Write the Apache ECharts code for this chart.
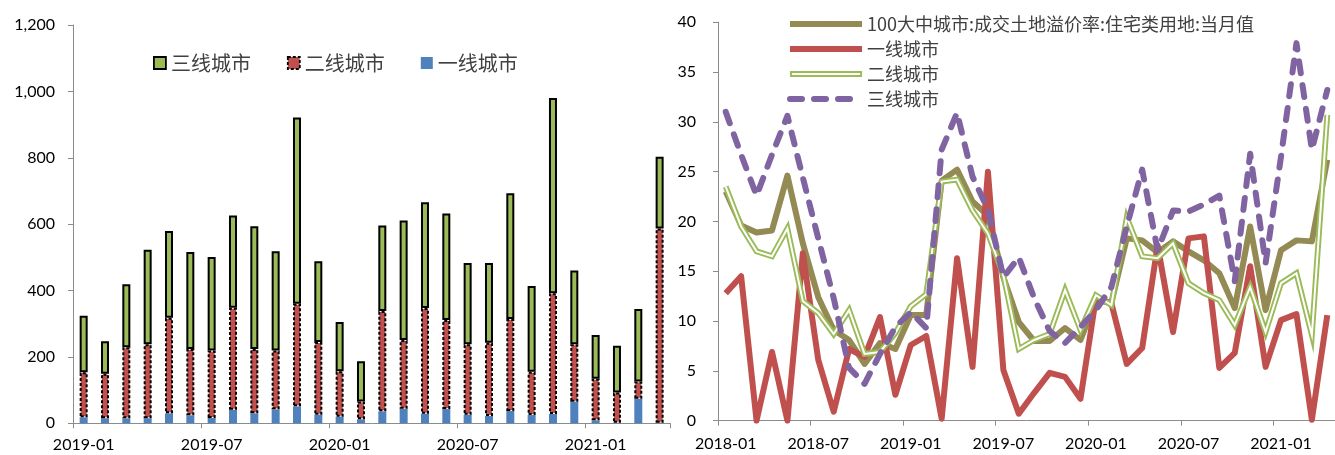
<!DOCTYPE html>
<html><head><meta charset="utf-8">
<script src="https://cdn.jsdelivr.net/npm/echarts@6/dist/echarts.min.js"></script>
<style>html,body{margin:0;padding:0;background:#fff}#c{width:1335px;height:455px}</style>
</head><body><div id="c"></div>
<script>
// ---- Left chart: monthly land deals by city tier (stacked) ----
const barMonths = ['2019-01','2019-02','2019-03','2019-04','2019-05','2019-06','2019-07','2019-08','2019-09','2019-10','2019-11','2019-12',
  '2020-01','2020-02','2020-03','2020-04','2020-05','2020-06','2020-07','2020-08','2020-09','2020-10','2020-11','2020-12',
  '2021-01','2021-02','2021-03','2021-04'];
const tier1Deals = [18,15,15,15,30,24,16,41,30,42,51,26,20,12,36,44,29,43,26,22,37,25,28,65,9,2,74,2];
const tier2Deals = [136,134,214,223,288,200,203,307,194,177,309,219,137,54,302,207,318,268,212,221,277,130,364,173,125,91,52,585];
const tier3Deals = [170,98,190,285,261,292,282,278,370,299,561,243,148,121,258,360,319,321,245,240,379,259,588,222,132,141,218,216];
const barLegend = ['三线城市','二线城市','一线城市'];

// ---- Right chart: premium rate of residential land (%) ----
const lineMonths = ['2018-01','2018-02','2018-03','2018-04','2018-05','2018-06','2018-07','2018-08','2018-09','2018-10','2018-11','2018-12',
  '2019-01','2019-02','2019-03','2019-04','2019-05','2019-06','2019-07','2019-08','2019-09','2019-10','2019-11','2019-12',
  '2020-01','2020-02','2020-03','2020-04','2020-05','2020-06','2020-07','2020-08','2020-09','2020-10','2020-11','2020-12',
  '2021-01','2021-02','2021-03','2021-04'];
const premiumAll   = [23.0,19.6,18.9,19.1,24.6,17.8,12.4,9.1,8.1,5.7,7.8,7.2,10.6,10.6,24.1,25.2,22.0,20.6,14.4,9.9,8.0,8.0,9.3,8.1,12.1,11.8,18.3,18.1,16.9,18.0,17.0,16.1,14.8,11.3,19.5,11.1,17.1,18.1,18.0,26.2];
const premiumTier1 = [12.8,14.5,0.0,6.9,0.0,16.8,6.1,0.9,7.2,6.4,10.4,2.6,7.6,8.5,0.2,16.3,5.4,25.0,5.1,0.7,2.8,4.8,4.4,2.2,12.3,11.8,5.7,7.3,17.6,8.9,18.3,18.5,5.3,6.8,15.5,5.4,10.1,10.7,0.1,10.6];
const premiumTier2 = [23.5,19.5,17.0,16.5,19.3,12.0,10.8,8.7,11.1,6.7,6.9,8.8,11.5,12.7,24.0,24.2,21.1,18.8,14.6,7.2,8.1,8.7,13.1,9.1,12.6,11.6,20.4,16.5,16.3,17.8,13.8,12.8,12.1,9.6,13.4,8.9,13.8,14.8,8.6,30.7];
const premiumTier3 = [31.0,26.7,22.6,26.7,30.6,24.4,18.3,12.3,5.3,3.7,6.7,9.4,10.9,9.3,27.2,30.9,24.5,21.2,14.4,16.4,12.3,9.0,7.8,9.4,11.1,13.4,19.5,25.2,17.1,21.1,21.0,21.7,22.6,14.0,26.8,15.8,26.5,37.9,27.2,33.2];
const lineLegend = ['100大中城市:成交土地溢价率:住宅类用地:当月值','一线城市','二线城市','三线城市'];

const numFont = 'Lato';
const cjkFont = 'Noto Sans CJK SC';
const axisGray = '#8c8c8c';
const labelColor = '#000';
const legendColor = '#404040';

function commas(v){ return String(v).replace(/\B(?=(\d{3})+(?!\d))/g, ','); }

const keyNames = {p0: lineLegend[0], p1: lineLegend[1], p2: lineLegend[2], p3: lineLegend[3]};

const chart = echarts.init(document.getElementById('c'), null, {renderer: 'canvas'});
chart.setOption({
  animation: false,
  backgroundColor: '#fff',
  grid: [
    {left: 73, top: 25, width: 597.3, height: 398.3},
    {left: 718, top: 22.2, width: 621.2, height: 398.5}
  ],
  legend: [
    {
      left: 153, top: 53, padding: 0, itemWidth: 12, itemHeight: 12, itemGap: 36, icon: 'rect',
      textStyle: {fontSize: 20, lineHeight: 20, color: legendColor, fontFamily: cjkFont},
      data: [
        {name: barLegend[0], itemStyle: {borderColor: '#000', borderWidth: 1.8}},
        {name: barLegend[1], itemStyle: {borderColor: '#000', borderWidth: 1.8, borderType: [3, 2]}},
        {name: barLegend[2], itemStyle: {borderWidth: 0}}
      ]
    },
    {
      orient: 'vertical', left: 787, top: 15, padding: 0, itemWidth: 72, itemHeight: 6, itemGap: 7,
      textStyle: {fontSize: 18, lineHeight: 18, color: legendColor, fontFamily: cjkFont},
      lineStyle: {width: 6},
      formatter: function (n) { return keyNames[n]; },
      data: [
        {name: 'p0'},
        {name: 'p1'},
        {name: 'p2', icon: 'path://M0,0L72,0L72,6L0,6Z M1.9,2L1.9,4L70.1,4L70.1,2Z',
          itemStyle: {color: '#9BBB59', borderWidth: 0}},
        {name: 'p3'}
      ]
    }
  ],
  xAxis: [
    {
      type: 'category', gridIndex: 0, data: barMonths, boundaryGap: true,
      axisLine: {lineStyle: {color: axisGray, width: 1}},
      axisTick: {show: true, interval: 5, length: 5, lineStyle: {color: axisGray}},
      axisLabel: {interval: 5, margin: 14, fontSize: 16, color: labelColor, fontFamily: numFont}
    },
    {
      type: 'category', gridIndex: 1, data: lineMonths, boundaryGap: true,
      axisLine: {lineStyle: {color: axisGray, width: 1}},
      axisTick: {show: true, interval: 5, length: 5, lineStyle: {color: axisGray}},
      axisLabel: {interval: 5, margin: 15, fontSize: 16, color: labelColor, fontFamily: numFont}
    }
  ],
  yAxis: [
    {
      type: 'value', gridIndex: 0, min: 0, max: 1200, interval: 200,
      splitLine: {show: false},
      axisLine: {show: true, lineStyle: {color: axisGray, width: 1}},
      axisTick: {show: true, length: 5, lineStyle: {color: axisGray}},
      axisLabel: {margin: 18, fontSize: 16, color: labelColor, fontFamily: numFont, formatter: commas}
    },
    {
      type: 'value', gridIndex: 1, min: 0, max: 40, interval: 5,
      splitLine: {show: false},
      axisLine: {show: true, lineStyle: {color: axisGray, width: 1}},
      axisTick: {show: true, length: 5, lineStyle: {color: axisGray}},
      axisLabel: {margin: 22, fontSize: 16, color: labelColor, fontFamily: numFont}
    }
  ],
  series: [
    {name: barLegend[2], type: 'bar', stack: 'deals', xAxisIndex: 0, yAxisIndex: 0, barWidth: 8,
      data: tier1Deals, itemStyle: {color: '#4F81BD'}},
    {name: barLegend[1], type: 'bar', stack: 'deals', xAxisIndex: 0, yAxisIndex: 0, barWidth: 8,
      data: tier2Deals, itemStyle: {color: '#C0504D', borderColor: '#000', borderWidth: 2, borderType: [3, 2]}},
    {name: barLegend[0], type: 'bar', stack: 'deals', xAxisIndex: 0, yAxisIndex: 0, barWidth: 8,
      data: tier3Deals, itemStyle: {color: '#9BBB59', borderColor: '#000', borderWidth: 2}},

    {name: 'p0', type: 'line', xAxisIndex: 1, yAxisIndex: 1, data: premiumAll, symbol: 'none',
      color: '#948A54', lineStyle: {color: '#948A54', width: 6, join: 'round'}},
    {name: 'p1', type: 'line', xAxisIndex: 1, yAxisIndex: 1, data: premiumTier1, symbol: 'none',
      color: '#C0504D', lineStyle: {color: '#C0504D', width: 6, join: 'round'}},
    {name: 'p2', type: 'line', xAxisIndex: 1, yAxisIndex: 1, data: premiumTier2, symbol: 'none',
      color: '#9BBB59', lineStyle: {color: '#9BBB59', width: 5.8, join: 'miter'}},
    {name: 'p2w', type: 'line', xAxisIndex: 1, yAxisIndex: 1, data: premiumTier2, symbol: 'none',
      color: '#fff', lineStyle: {color: '#fff', width: 2, join: 'miter'}},
    {name: 'p3', type: 'line', xAxisIndex: 1, yAxisIndex: 1, data: premiumTier3, symbol: 'none',
      color: '#8064A2', lineStyle: {color: '#8064A2', width: 6, type: [12, 12], cap: 'round', join: 'round'}}
  ]
});
</script>
</body></html>
